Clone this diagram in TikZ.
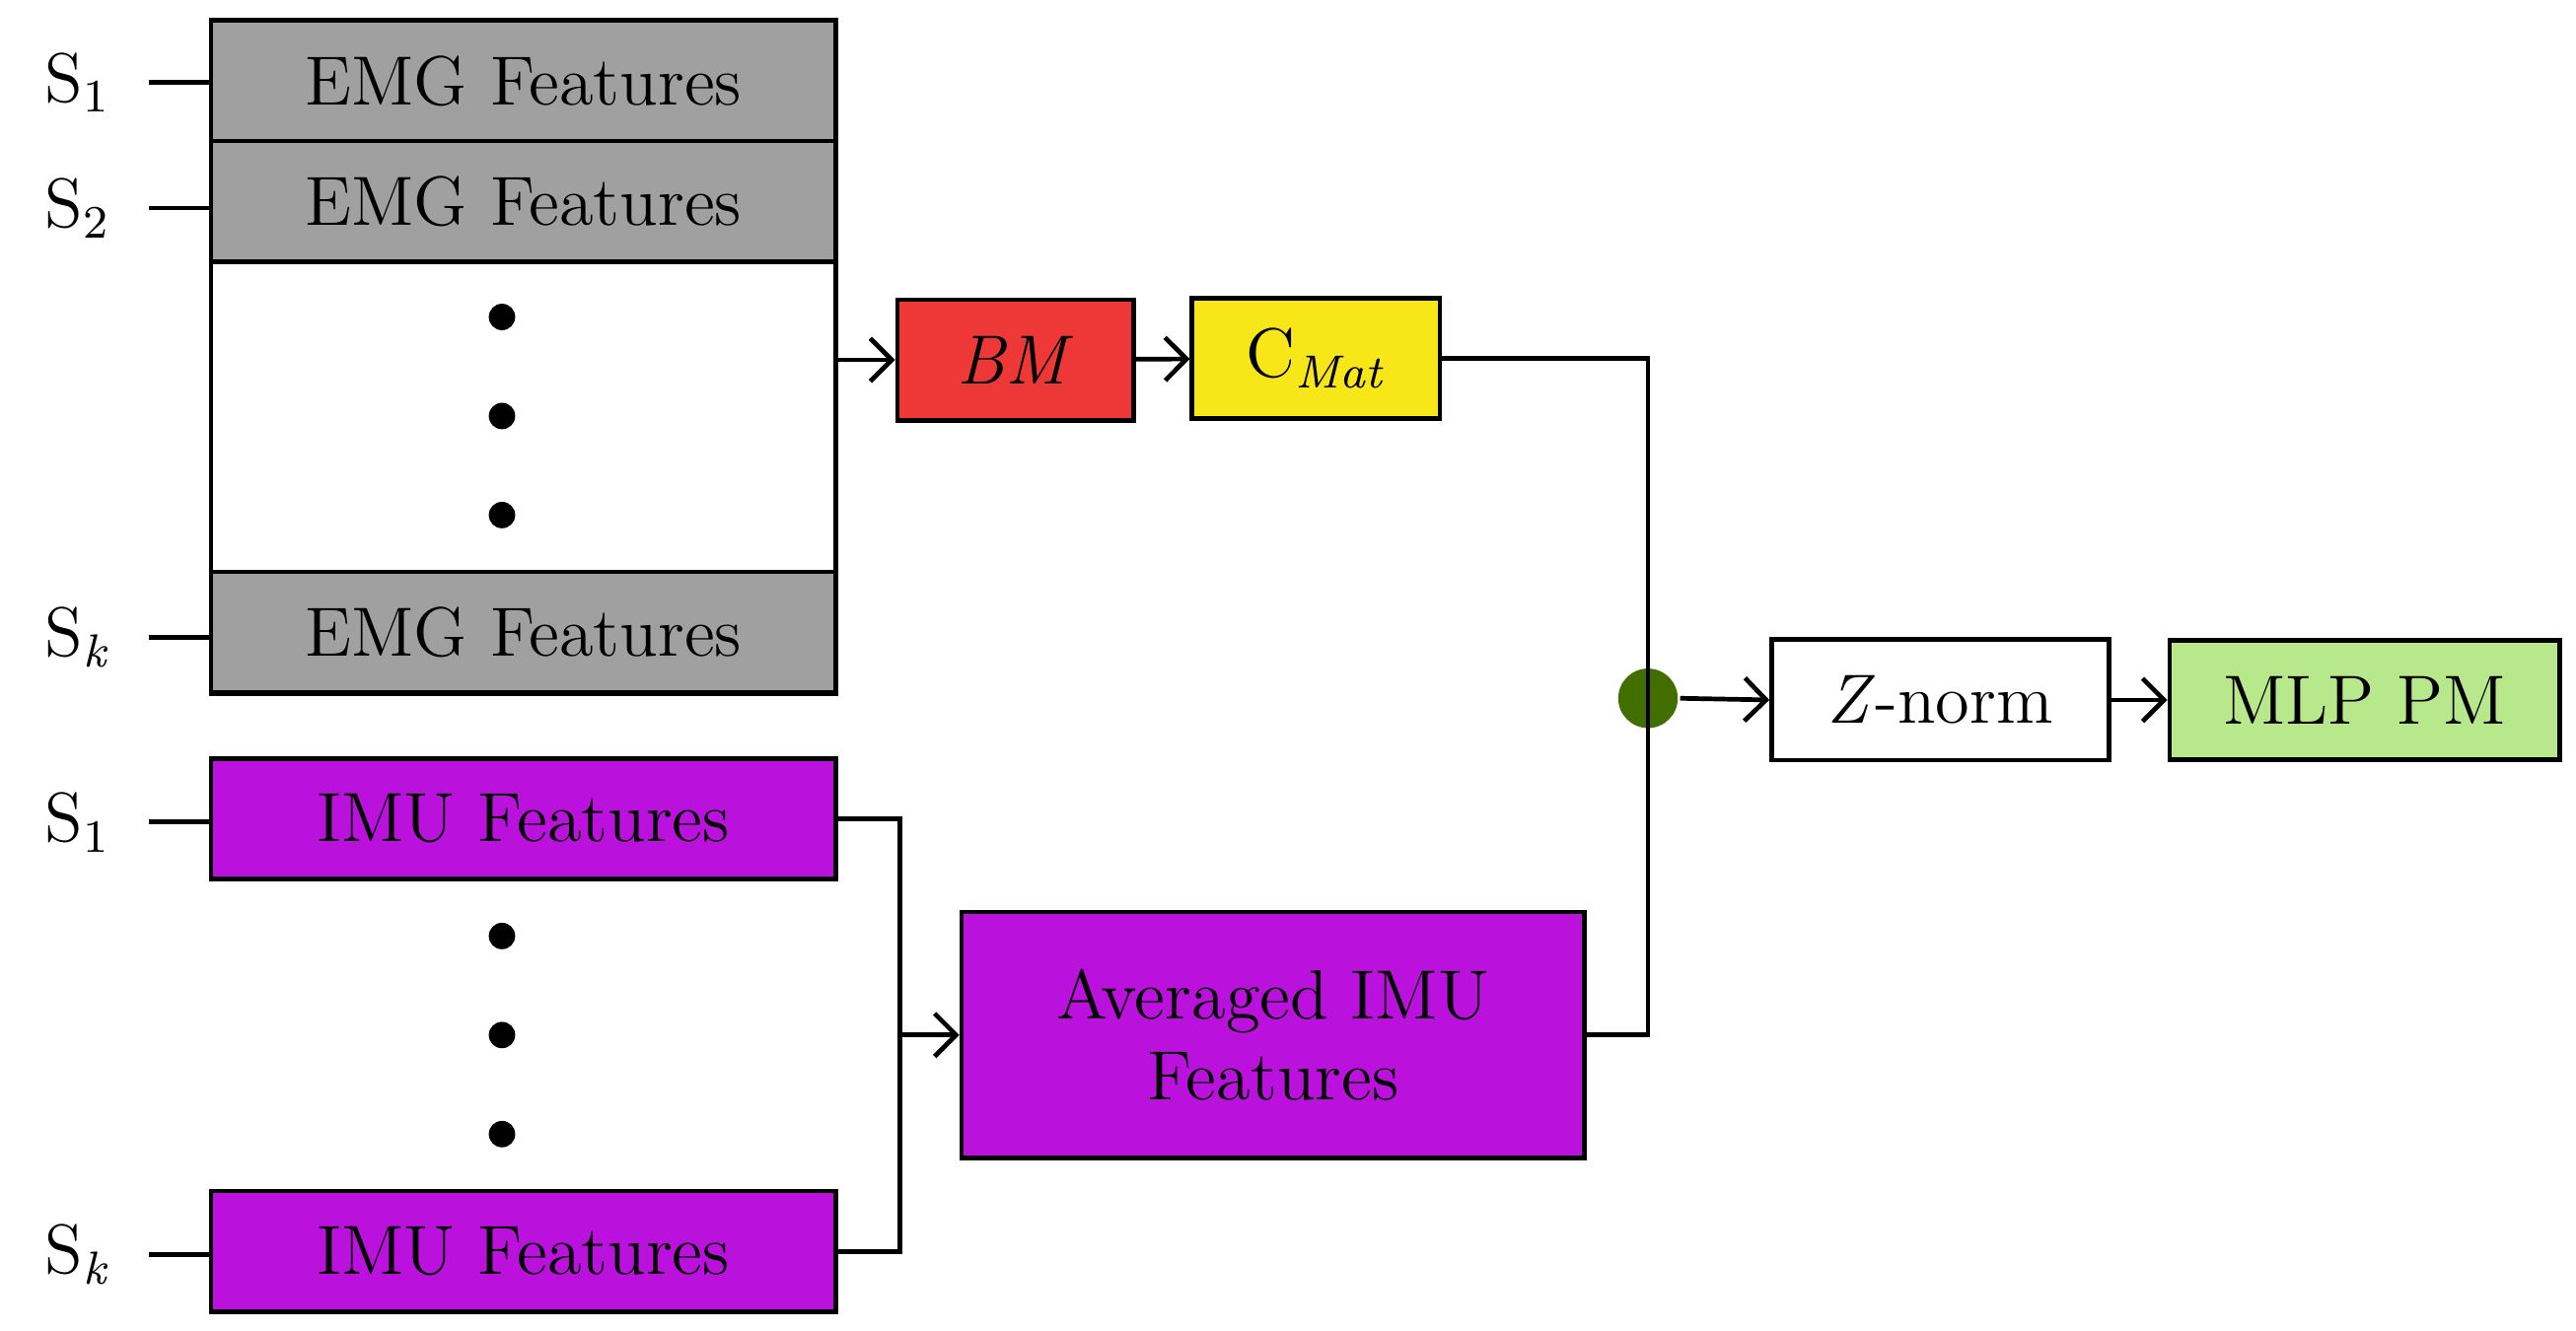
\documentclass[tikz,border=0pt]{standalone}
\usepackage{tikz}
\usetikzlibrary{arrows.meta, positioning}
\definecolor{emggray}{RGB}{160,160,160}
\definecolor{imupurple}{RGB}{187,17,221}
\definecolor{bmred}{RGB}{238,56,56}
\definecolor{cyellow}{RGB}{247,230,24}
\definecolor{mlpgreen}{RGB}{184,232,140}
\definecolor{dotgreen}{RGB}{66,110,0}
\begin{document}
\begin{tikzpicture}[
    x=0.01cm, y=-0.01cm,
    line width=0.8pt,
    font=\fontsize{12}{14}\selectfont,
    box/.style={draw, line width=0.8pt, inner sep=0pt, align=center},
    feat/.style={box, minimum width=3.78cm, minimum height=0.73cm},
    dot/.style={circle, fill=black, inner sep=0pt, minimum size=0.16cm},
    slabel/.style={anchor=east, inner sep=1pt},
    arr/.style={-{Straight Barb[length=1.3mm]}}
]
\useasboundingbox (0,0) rectangle (1560,806);
% EMG stack
\node[box, minimum width=3.78cm, minimum height=4.08cm] (stack) at (317,216) {};
\node[feat, fill=emggray] (emg1) at (317,49) {EMG Features};
\node[feat, fill=emggray] (emg2) at (317,122) {EMG Features};
\node[feat, fill=emggray] (emgk) at (317,383) {EMG Features};
\foreach \y/\n in {192/a,252/b,312/c} \node[dot] (ed\n) at (304,\y) {};

% IMU features
\node[feat, fill=imupurple] (imu1) at (317,496) {IMU Features};
\node[feat, fill=imupurple] (imuk) at (317,758) {IMU Features};
\foreach \y/\n in {567/a,627/b,687/c} \node[dot] (id\n) at (304,\y) {};

% Labels
\node[slabel] (s1) at (72,50) {S\textsubscript{1}};
\node[slabel] (s2) at (72,126) {S\textsubscript{2}};
\node[slabel] (sk) at (72,386) {S\textsubscript{\textit{k}}};
\node[slabel] (t1) at (72,498) {S\textsubscript{1}};
\node[slabel] (tk) at (72,760) {S\textsubscript{\textit{k}}};
\draw (s1.east) ++(18,0) -- (emg1.west |- s1.east);
\draw (s2.east) ++(18,0) -- (emg2.west |- s2.east);
\draw (sk.east) ++(18,0) -- (emgk.west |- sk.east);
\draw (t1.east) ++(18,0) -- (imu1.west |- t1.east);
\draw (tk.east) ++(18,0) -- (imuk.west |- tk.east);

% Processing chain
\node[box, fill=bmred, minimum width=1.43cm, minimum height=0.73cm] (bm) at (615,218) {\textit{BM}};
\node[box, fill=cyellow, minimum width=1.5cm, minimum height=0.73cm] (cmat) at (797,217) {C\textsubscript{\textit{Mat}}};
\node[box, fill=imupurple, minimum width=3.77cm, minimum height=1.49cm] (avg) at (771,627) {Averaged IMU\\Features};
\node[circle, fill=dotgreen, inner sep=0pt, minimum size=0.36cm] (join) at (998,423) {};
\node[box, fill=white, minimum width=2.04cm, minimum height=0.73cm] (znorm) at (1175,424) {\textit{Z}-norm};
\node[box, fill=mlpgreen, minimum width=2.36cm, minimum height=0.72cm] (mlp) at (1432,424) {MLP PM};

% Arrows
\draw[arr] (stack.east |- bm.west) -- (bm.west);
\draw[arr] (bm) -- (cmat);
\draw (cmat.east) -| (join.center);
\draw (avg.east) -| (join.center);
\draw[arr] (join.east) -- (znorm.west);
\draw[arr] (znorm) -- (mlp);
\coordinate (m) at (545,627);
\draw (imu1.east) -| (m) |- (imuk.east);
\draw[arr] (m) -- (avg.west);
\end{tikzpicture}
\end{document}
